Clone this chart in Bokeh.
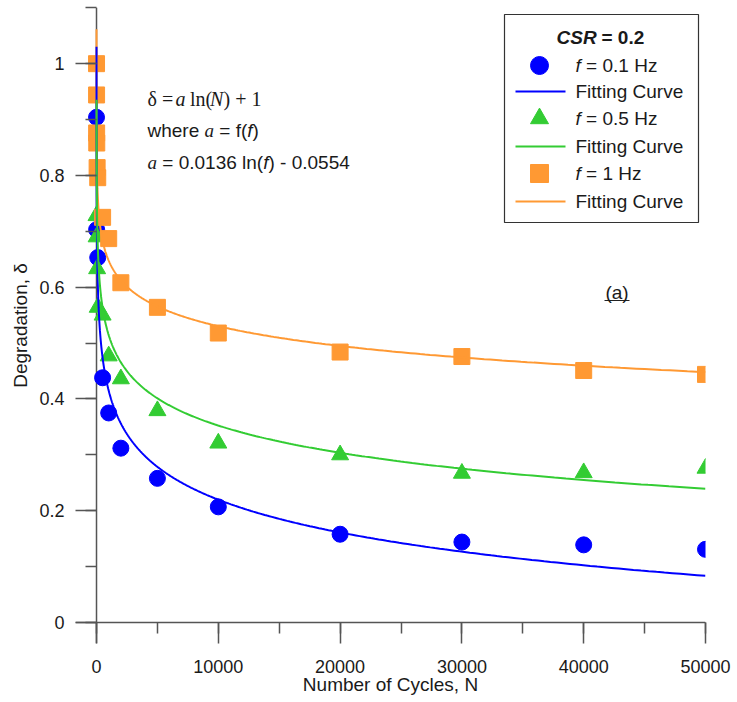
import numpy as np
from bokeh.plotting import figure
from bokeh.models import Range1d, SingleIntervalTicker, Label, Span, CustomJSTickFormatter
from bokeh.embed import file_html
from bokeh.resources import INLINE

# ---------------- data ----------------
n_f01 = [1, 10, 100, 500, 1000, 2000, 5000, 10000, 20000, 30000, 40000, 50000]
delta_f01 = [0.904, 0.703, 0.653, 0.438, 0.375, 0.312, 0.258, 0.207, 0.158, 0.144, 0.139, 0.131]

n_f05 = [1, 10, 50, 100, 500, 1000, 2000, 5000, 10000, 20000, 30000, 40000, 50000]
delta_f05 = [0.728, 0.690, 0.633, 0.564, 0.550, 0.477, 0.436, 0.379, 0.321, 0.300, 0.267, 0.268, 0.276]

n_f1 = [1, 5, 10, 20, 50, 100, 500, 1000, 2000, 5000, 10000, 20000, 30000, 40000, 50000]
delta_f1 = [1.000, 0.944, 0.876, 0.858, 0.814, 0.796, 0.725, 0.687, 0.608, 0.564, 0.518, 0.484, 0.476, 0.451, 0.444]

fit_a = [-0.0847, -0.0703, -0.0510]          # f = 0.1, 0.5, 1 Hz
fit_n_start = [0.7, 2.5, 0.3]
fit_n_end = 50000

x_ticks_interval = 10000
y_ticks_interval = 0.2

# ---------------- layout / style ----------------
W, H = 737, 702
FL, FR, FT, FB = 75, 705, 7, 643
X0, X1 = -1725, 50000
Y0, Y1 = -0.0375, 1.1005

BLUE = "#0000FF"
GREEN = "#33CC33"
ORANGE = "#FF9933"
AXIS = "#555555"
TXT = "#1a1a1a"
SANS = "Liberation Sans"
SERIF = "Liberation Serif"

p = figure(width=W, height=H, output_backend="svg", toolbar_location=None,
           x_range=Range1d(X0, X1), y_range=Range1d(Y0, Y1),
           min_border_left=FL, min_border_right=W - FR,
           min_border_top=FT, min_border_bottom=H - FB)
p.outline_line_color = None
p.grid.visible = False
p.background_fill_color = "white"
p.border_fill_color = "white"

p.xaxis.ticker = SingleIntervalTicker(interval=x_ticks_interval, num_minor_ticks=2)
p.yaxis.ticker = SingleIntervalTicker(interval=y_ticks_interval, num_minor_ticks=2)
p.yaxis.formatter = CustomJSTickFormatter(code="return tick.toFixed(1).replace(/\\.0$/, '');")

# axes sit on the frame edges; their ticks reach in to the zero lines
for ax in (p.xaxis[0], p.yaxis[0]):
    ax.axis_line_color = None
    ax.major_tick_line_color = AXIS
    ax.major_tick_line_width = 1.5
    ax.minor_tick_line_color = AXIS
    ax.minor_tick_line_width = 1.5
    ax.major_tick_in = 21
    ax.major_tick_out = 0
    ax.minor_tick_in = 21
    ax.minor_tick_out = -10
    ax.major_label_text_font = SANS
    ax.major_label_text_font_size = "18px"
    ax.major_label_text_color = TXT
    ax.axis_label_text_font = SANS
    ax.axis_label_text_font_size = "19px"
    ax.axis_label_text_font_style = "normal"
    ax.axis_label_text_color = TXT
p.xaxis.major_label_standoff = 16
p.yaxis.major_label_standoff = 11
p.xaxis.axis_label = "Number of Cycles, N"
p.xaxis.axis_label_standoff = -2
p.yaxis.axis_label = "Degradation, \u03b4"
p.yaxis.axis_label_standoff = 5

# axis lines through the origin
p.add_layout(Span(location=0, dimension="height", line_color=AXIS, line_width=1.5, level="underlay"))
p.add_layout(Span(location=0, dimension="width", line_color=AXIS, line_width=1.5, level="underlay"))

# data markers
p.scatter(n_f01, delta_f01, marker="circle", size=16, color=BLUE)
p.scatter(n_f05, delta_f05, marker="triangle", size=17, color=GREEN)
p.scatter(n_f1, delta_f1, marker="square", size=16, color=ORANGE)

# fitting curves (orange, blue, green drawing order)
for idx in (2, 0, 1):
    col = [BLUE, GREEN, ORANGE][idx]
    n = np.geomspace(fit_n_start[idx], fit_n_end, 800)
    p.line(n, 1 + fit_a[idx] * np.log(n), line_color=col, line_width=2)


# ---------------- helpers for layout elements ----------------
def dx(cx):
    return X0 + (cx - FL) / (FR - FL) * (X1 - X0)


def dy(cy):
    return Y1 - (cy - FT) / (FB - FT) * (Y1 - Y0)


def lab(text, cx, cy, size="19px", style="normal", font=SANS, align="left"):
    # cy is the visual centre of the text line
    p.add_layout(Label(x=cx - FL, y=FB - cy, x_units="screen", y_units="screen",
                       text=text, text_font=font, text_font_size=size,
                       text_font_style=style, text_align=align,
                       text_baseline="alphabetic", text_color=TXT))


# legend box
p.quad(left=[dx(504)], right=[dx(698)], top=[dy(14)], bottom=[dy(222)],
       fill_color=None, line_color="#333333", line_width=1.2)
rows = [65, 91, 118, 146, 173, 201]
MX, LX0, LX1, TX = 539, 515, 565, 575
p.scatter([dx(MX)], [dy(rows[0])], marker="circle", size=18, color=BLUE)
p.scatter([dx(MX)], [dy(rows[2])], marker="triangle", size=18, color=GREEN)
p.scatter([dx(MX)], [dy(rows[4])], marker="square", size=18, color=ORANGE)
for r, col in ((rows[1], BLUE), (rows[3], GREEN), (rows[5], ORANGE)):
    p.line([dx(LX0), dx(LX1)], [dy(r), dy(r)], line_color=col, line_width=2)

lab("CSR", 556, 37, style="bold italic")
lab("= 0.2", 601, 37, style="bold")
for r, fl in ((rows[0], "0.1"), (rows[2], "0.5"), (rows[4], "1")):
    lab("f", TX, r, style="italic")
    lab(f"= {fl} Hz", TX + 10.6, r)
for r in (rows[1], rows[3], rows[5]):
    lab("Fitting Curve", TX, r)

# formula text
L1, L2, L3 = 98, 130, 162
lab("\u03b4 =", 147, L1, font=SERIF, size="20px")
lab("a", 175, L1, font=SERIF, style="italic", size="20px")
lab("ln(", 189.5, L1, font=SERIF, size="20px")
lab("N", 209.5, L1, font=SERIF, style="italic", size="20px")
lab(") + 1", 223, L1, font=SERIF, size="20px")

lab("where", 147, L2)
lab("a", 204, L2, font=SERIF, style="italic")
lab("= f(", 218.8, L2)
lab("f", 246.8, L2, style="italic")
lab(")", 252.1, L2)

lab("a", 147, L3, font=SERIF, style="italic")
lab("= 0.0136 ln(", 161.8, L3)
lab("f", 262.7, L3, style="italic")
lab(") - 0.0554", 268, L3)

# panel label (a), underlined
lab("(a)", 616.5, 292, align="center")
p.line([dx(604), dx(629)], [dy(300), dy(300)], line_color="#222222", line_width=1)

open("out.html", "w").write(file_html(p, INLINE))
